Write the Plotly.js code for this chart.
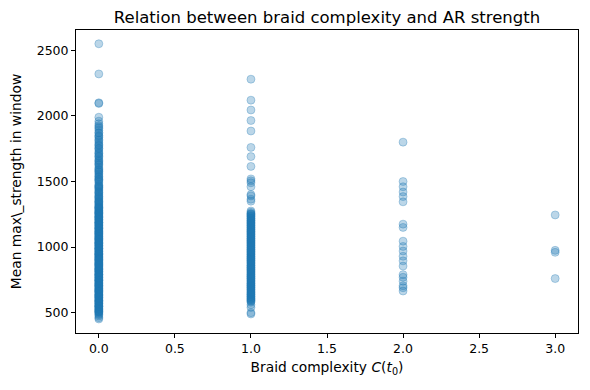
<!DOCTYPE html>
<html>
<head>
<meta charset="utf-8">
<script src="https://cdn.plot.ly/plotly-3.0.1.min.js"></script>
<style>html,body{margin:0;padding:0;background:#fff;}#chart{width:590px;height:390px;}</style>
</head>
<body>
<div id="chart"></div>
<script>
// Mean max_strength by braid complexity
const strengthC0 = [2550, 2320, 2100, 2095, 1990, 1960, 1940, 1925, 1905, 1890, 1870, 1850, 1835, 1820, 1800, 1785, 1770, 1755, 1740, 1725, 1710, 1695, 1680, 1665, 1650, 1640, 1625, 1610, 1600, 1590, 1575, 1560, 1550, 1540, 1525, 1515, 1505, 1495, 1480, 1470, 1460, 1450, 1440, 1430, 1420, 1410, 1400, 1390, 1380, 1372, 1365, 1355, 1348, 1340, 1332, 1325, 1318, 1310, 1302, 1295, 1288, 1280, 1272, 1265, 1258, 1250, 1242, 1235, 1228, 1220, 1212, 1205, 1198, 1190, 1183, 1176, 1170, 1162, 1155, 1148, 1140, 1133, 1126, 1120, 1112, 1105, 1098, 1090, 1084, 1077, 1070, 1063, 1056, 1050, 1043, 1036, 1030, 1023, 1016, 1010, 1003, 996, 990, 983, 976, 970, 963, 956, 950, 943, 936, 930, 923, 916, 910, 903, 896, 890, 883, 876, 870, 863, 856, 850, 843, 836, 830, 823, 816, 810, 803, 796, 790, 783, 776, 770, 763, 756, 750, 743, 736, 730, 723, 716, 710, 703, 696, 690, 683, 676, 670, 663, 656, 650, 643, 636, 630, 623, 616, 610, 603, 596, 590, 583, 576, 570, 563, 556, 550, 543, 536, 530, 522, 515, 508, 500, 492, 485, 475, 462, 452,
  1385, 1345, 1305, 1262, 1225, 1185, 1145, 1108, 1066, 1027, 987, 948, 908, 868, 828, 788, 748, 708, 668, 628, 588, 548, 512, 1452, 1512, 1572, 1632, 1692, 1752, 1812, 1872,
  1298, 1276, 1254, 1232, 1209, 1187, 1166, 1143, 1121, 1099, 1078, 1055, 1033, 1011, 989, 967, 945, 924, 901, 879, 857, 835, 813, 791, 769, 747, 725, 703, 681, 659, 637, 615, 593, 571, 549, 527, 505, 1418, 1466, 1534, 1586, 1658, 1716, 1778, 1846, 1915];
const strengthC1 = [2280, 2120, 2045, 1965, 1885, 1760, 1690, 1615, 1520, 1505, 1490, 1460, 1400, 1390, 1365, 1350, 1275, 1265, 1256, 1248, 1240, 1231, 1222, 1214, 1205, 1197, 1188, 1180, 1171, 1162, 1154, 1145, 1137, 1128, 1120, 1111, 1102, 1094, 1085, 1077, 1068, 1060, 1051, 1042, 1034, 1025, 1017, 1008, 1000, 991, 982, 974, 965, 957, 948, 940, 931, 922, 914, 905, 897, 888, 880, 871, 862, 854, 845, 837, 828, 820, 811, 802, 794, 785, 777, 768, 760, 751, 742, 734, 725, 717, 708, 700, 691, 682, 674, 665, 657, 648, 640, 631, 622, 614, 605, 597, 588, 580, 560, 540, 500, 490,
  1252, 1218, 1184, 1150, 1116, 1082, 1048, 1014, 980, 946, 912, 878, 844, 810, 776, 742, 708, 674, 640, 606,
  1236, 1201, 1167, 1133, 1099, 1065, 1031, 997, 963, 929, 895, 861, 827, 793, 759, 725, 691, 657, 623, 593];
const strengthC2 = [1800, 1500, 1460, 1420, 1385, 1345, 1175, 1150, 1045, 1005, 970, 930, 895, 855, 790, 770, 740, 705, 690, 665];
const strengthC3 = [1245, 975, 960, 760];
const complexityLevels = [0, 1, 2, 3];
const xTickVals = [0, 0.5, 1, 1.5, 2, 2.5, 3];
const yTickVals = [500, 1000, 1500, 2000, 2500];

const groups = [strengthC0, strengthC1, strengthC2, strengthC3];
const xs = [], ys = [];
groups.forEach((arr, i) => arr.forEach(v => { xs.push(complexityLevels[i]); ys.push(v); }));

const font = "DejaVu Sans, sans-serif";
const axisCommon = {
  showline: true, mirror: true, linecolor: '#000', linewidth: 1,
  ticks: 'outside', ticklen: 4, tickwidth: 1, tickcolor: '#000',
  showgrid: false, zeroline: false,
  tickfont: {family: font, size: 12.5, color: '#000'}
};

Plotly.newPlot('chart', [{
  type: 'scatter', mode: 'markers', x: xs, y: ys,
  marker: {color: 'rgba(31,119,180,0.3)', size: 8, line: {width: 1, color: 'rgba(31,119,180,0.3)'}},
  hoverinfo: 'x+y'
}], {
  width: 590, height: 390,
  margin: {l: 76, r: 12, t: 30, b: 57},
  paper_bgcolor: '#fff', plot_bgcolor: '#fff',
  showlegend: false,
  title: {text: 'Relation between braid complexity and AR strength', font: {family: font, size: 16.5, color: '#000'}, xref: 'paper', x: 0.5, xanchor: 'center', yref: 'container', y: 0.955, yanchor: 'middle'},
  xaxis: Object.assign({}, axisCommon, {
    range: [-0.15, 3.15], tickvals: xTickVals, tickformat: '.1f',
    title: {text: 'Braid complexity <i>C</i>(<i>t</i><sub>0</sub>)', font: {family: font, size: 13.8, color: '#000'}, standoff: 7}
  }),
  yaxis: Object.assign({}, axisCommon, {
    range: [345, 2655], tickvals: yTickVals,
    title: {text: 'Mean max\\_strength in window', font: {family: font, size: 13.8, color: '#000'}, standoff: 11}
  })
}, {displayModeBar: false, staticPlot: true});
</script>
</body>
</html>
